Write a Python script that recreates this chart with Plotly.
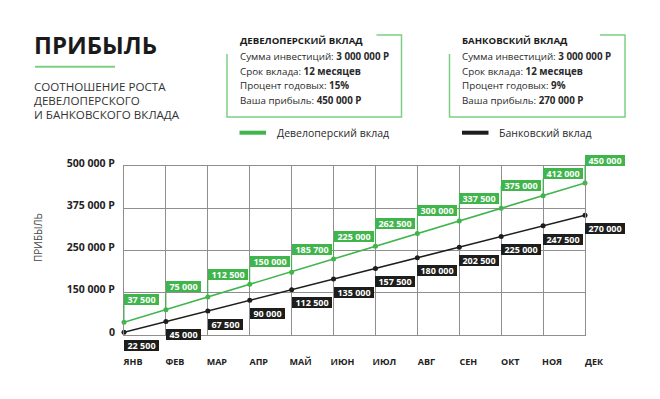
import plotly.graph_objects as go

# ---------------- data ----------------
MONTHS = ["ЯНВ", "ФЕВ", "МАР", "АПР", "МАЙ", "ИЮН", "ИЮЛ", "АВГ", "СЕН", "ОКТ", "НОЯ", "ДЕК"]
DEV_PROFIT = [37500, 75000, 112500, 150000, 185700, 225000, 262500, 300000, 337500, 375000, 412000, 450000]
BANK_PROFIT = [22500, 45000, 67500, 90000, 112500, 135000, 157500, 180000, 202500, 225000, 247500, 270000]
Y_TICK_VALUES = [0, 125000, 250000, 375000, 500000]
Y_TICK_LABELS = ["0", "150 000 Р", "250 000 Р", "375 000 Р", "500 000 Р"]
SERIES_NAMES = ["Девелоперский вклад", "Банковский вклад"]
DEV_INFO = ["Сумма инвестиций: ", "3 000 000 Р", "Срок вклада: ", "12 месяцев",
            "Процент годовых: ", "15%", "Ваша прибыль: ", "450 000 Р"]
BANK_INFO = ["Сумма инвестиций: ", "3 000 000 Р", "Срок вклада: ", "12 месяцев",
             "Процент годовых: ", "9%", "Ваша прибыль: ", "270 000 Р"]

# ---------------- style ----------------
W, H = 660, 399
ML, MR, MT, MB = 124, 75, 166, 64
PW, PH = W - ML - MR, H - MT - MB
GREEN = "#3fb54b"
LIGHT_GREEN = "#7ccf84"
DARK = "#1d1d1b"
GRID = "#8f8f8f"
FONT = "Open Sans"


def px(x):
    return (x - ML) / PW


def py(y):
    return (H - MB - y) / PH


def fmt(v):
    return f"{v:,}".replace(",", " ")


fig = go.Figure()
fig.add_trace(go.Scatter(x=MONTHS, y=DEV_PROFIT, mode="lines+markers", name=SERIES_NAMES[0],
                         line=dict(color=GREEN, width=1.6), marker=dict(color=GREEN, size=5),
                         yaxis="y", cliponaxis=False))
fig.add_trace(go.Scatter(x=MONTHS, y=BANK_PROFIT, mode="lines+markers", name=SERIES_NAMES[1],
                         line=dict(color=DARK, width=1.6), marker=dict(color=DARK, size=5),
                         yaxis="y2", cliponaxis=False))

ann = []
lab_font = dict(family=FONT, size=9, color="white")
for i, v in enumerate(DEV_PROFIT):
    t = fmt(v)
    ann.append(dict(x=i, y=v, xref="x", yref="y", text="<b>" + t + "</b>", showarrow=True,
                    arrowhead=0, arrowwidth=1, arrowcolor=GREEN, ax=0, ay=-22.7,
                    standoff=0, xanchor="left", yanchor="middle", bgcolor=GREEN,
                    borderpad=0, borderwidth=0, width=5 * len(t) + 5, height=11.3,
                    font=lab_font, align="center"))
for i, v in enumerate(BANK_PROFIT):
    t = fmt(v)
    ann.append(dict(x=i, y=v, xref="x", yref="y2", text="<b>" + t + "</b>", showarrow=False,
                    xanchor="left", yanchor="top", yshift=-7.7, bgcolor=DARK,
                    borderpad=0, borderwidth=0, width=5 * len(t) + 5, height=11.3,
                    font=lab_font, align="center"))

plain = dict(showarrow=False, xanchor="left", yanchor="middle", borderpad=0, borderwidth=0,
             xref="paper", yref="paper")

# title block
ann.append(dict(x=px(34), y=py(44), text="<b>ПРИБЫЛЬ</b>",
                font=dict(family=FONT, size=24, color="#1a1a1a"), **plain))
for k, line in enumerate(["СООТНОШЕНИЕ РОСТА", "ДЕВЕЛОПЕРСКОГО", "И БАНКОВСКОГО ВКЛАДА"]):
    ann.append(dict(x=px(34), y=py(86 + 14.2 * k), text=line,
                    font=dict(family=FONT, size=11.6, color="#333333"), **plain))
# y title
ann.append(dict(x=px(38), y=py(238), xref="paper", yref="paper", text="ПРИБЫЛЬ",
                showarrow=False, textangle=-90, xanchor="center", yanchor="middle",
                font=dict(family=FONT, size=10, color="#444444")))

# info boxes
shapes = []
shapes.append(dict(type="line", xref="paper", yref="paper", x0=px(35), x1=px(115),
                   y0=py(66.7), y1=py(66.7), line=dict(color=LIGHT_GREEN, width=2)))
for (x0, x1, title, info, color, name) in [
        (227, 401.5, "ДЕВЕЛОПЕРСКИЙ ВКЛАД", DEV_INFO, GREEN, SERIES_NAMES[0]),
        (449.5, 625, "БАНКОВСКИЙ ВКЛАД", BANK_INFO, DARK, SERIES_NAMES[1])]:
    path = (f"M {px(x1 - 25)},{py(35)} L {px(x1)},{py(35)} L {px(x1)},{py(117)} "
            f"L {px(x0)},{py(117)} L {px(x0)},{py(54)}")
    shapes.append(dict(type="path", xref="paper", yref="paper", path=path,
                       line=dict(color=LIGHT_GREEN, width=1.5)))
    tx = x0 + 12.5
    ann.append(dict(x=px(tx), y=py(40.5), text="<b>" + title + "</b>",
                    font=dict(family=FONT, size=9.6, color="#1a1a1a"), **plain))
    for k in range(4):
        ann.append(dict(x=px(tx), y=py(56.3 + 14.7 * k),
                        text=info[2 * k] + "<b>" + info[2 * k + 1] + "</b>",
                        font=dict(family=FONT, size=9.8, color="#2a2a2a"), **plain))
    # legend entry
    shapes.append(dict(type="line", xref="paper", yref="paper", x0=px(tx), x1=px(tx + 26.5),
                       y0=py(132.7), y1=py(132.7), line=dict(color=color, width=4)))
    ann.append(dict(x=px(tx + 37), y=py(132.7), text=name,
                    font=dict(family=FONT, size=10.5, color="#2a2a2a"), **plain))

fig.update_layout(
    width=W, height=H, margin=dict(l=ML, r=MR, t=MT, b=MB, pad=0),
    paper_bgcolor="white", plot_bgcolor="white", showlegend=False,
    annotations=ann, shapes=shapes,
    xaxis=dict(type="category", range=[0, 11], showgrid=True, gridcolor=GRID, gridwidth=1,
               zeroline=False, showline=True, linecolor=GRID, linewidth=1, mirror=True,
               ticks="", tickfont=dict(family=FONT, size=9, color="#222222", weight="bold"),
               ticklabelstandoff=18, ticklabelshift=9),
    yaxis=dict(range=[0, 500000], tickvals=Y_TICK_VALUES, ticktext=Y_TICK_LABELS,
               showgrid=True, gridcolor=GRID, gridwidth=1, zeroline=False,
               showline=True, linecolor=GRID, linewidth=1, mirror=True, ticks="",
               tickfont=dict(family=FONT, size=10.5, color="#222222", weight="bold"),
               ticklabelstandoff=6, ticklabelshift=-3),
    yaxis2=dict(overlaying="y", range=[16700, 374100], showgrid=False, zeroline=False,
                showticklabels=False, showline=False, ticks=""),
    font=dict(family=FONT),
)

fig.write_html("out.html")
